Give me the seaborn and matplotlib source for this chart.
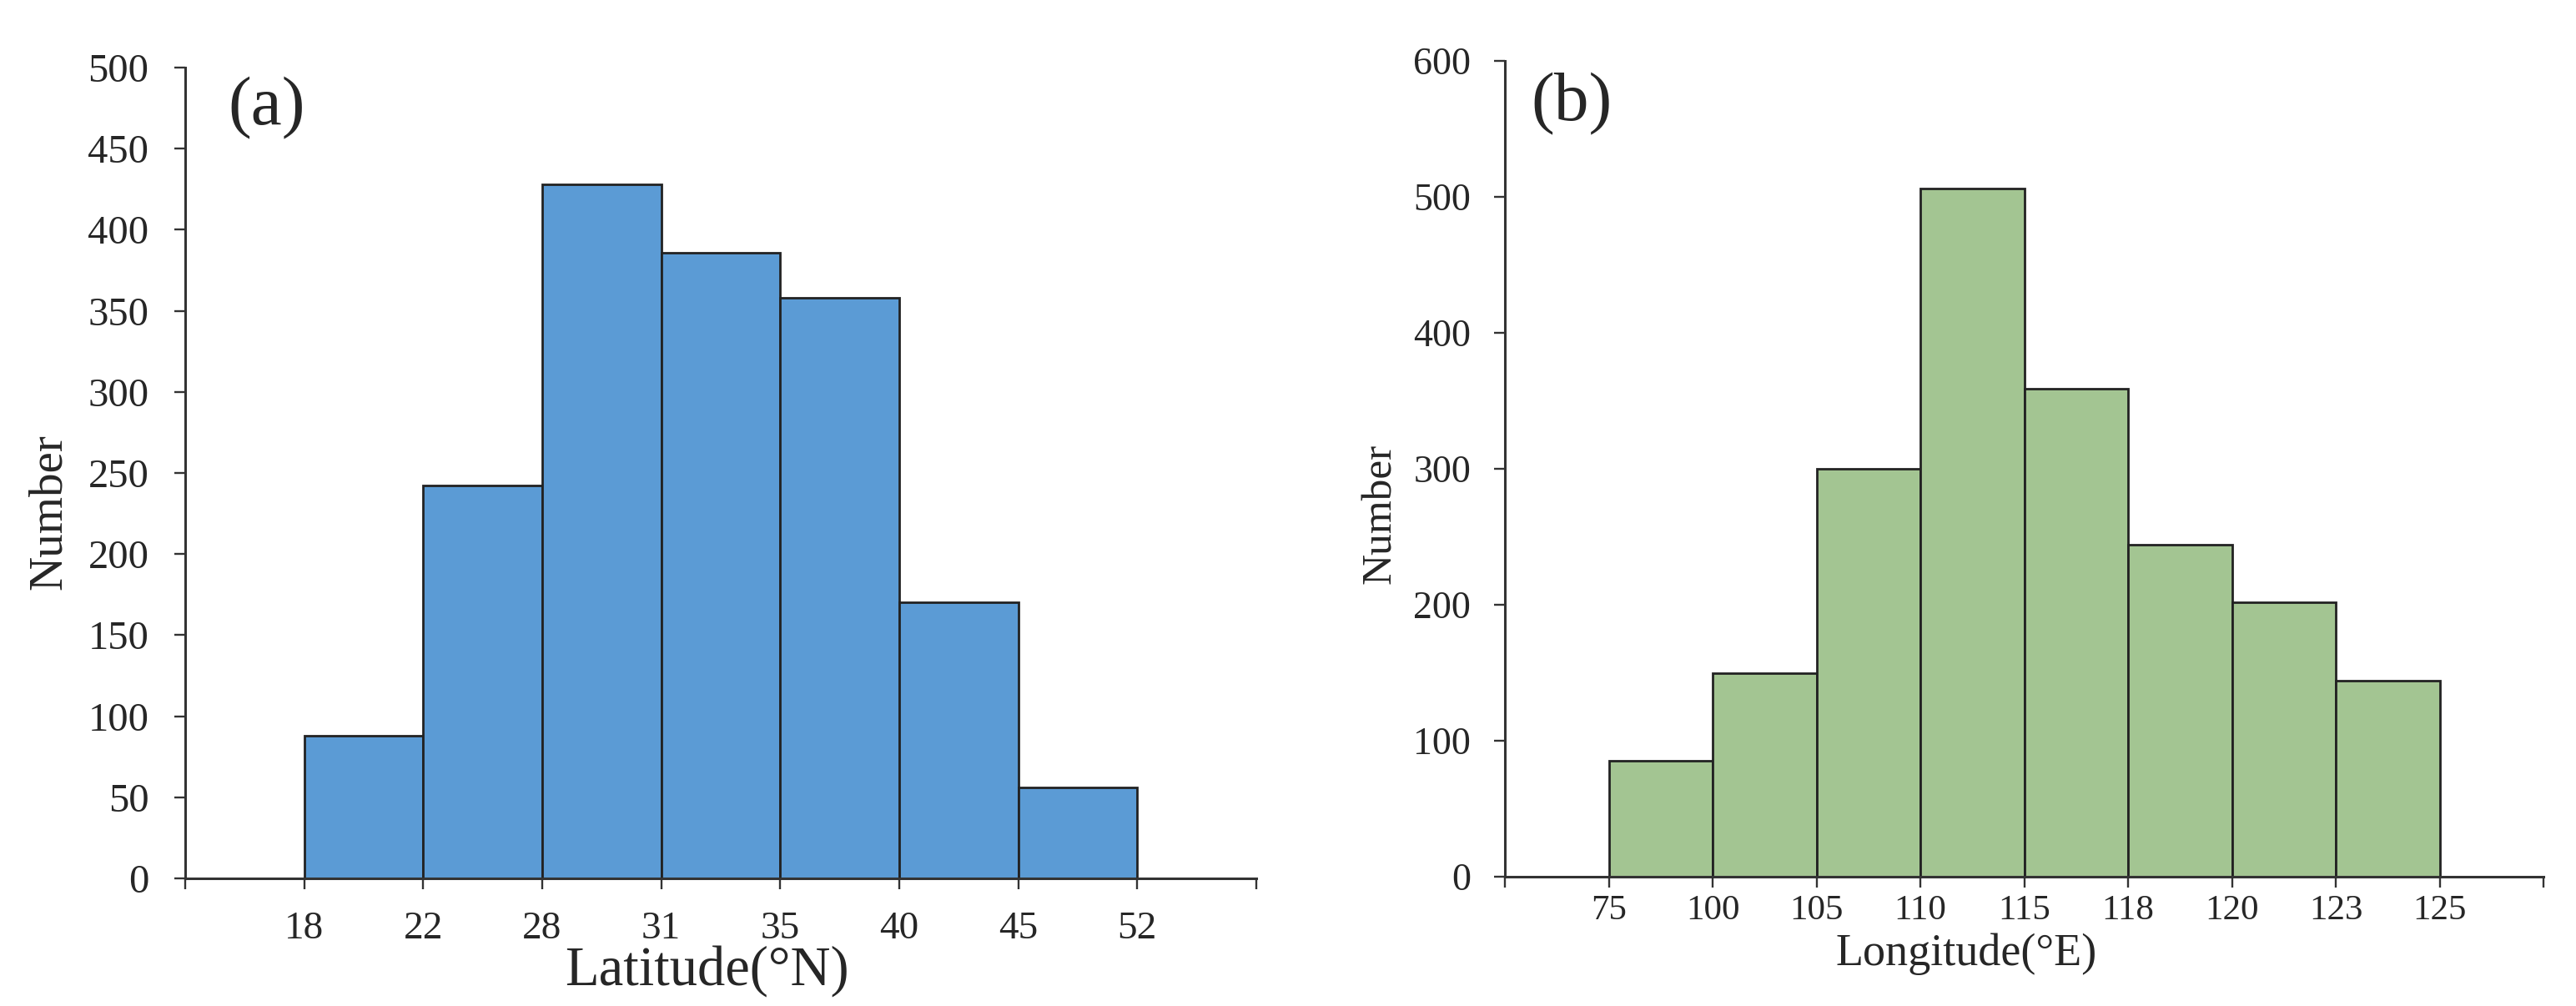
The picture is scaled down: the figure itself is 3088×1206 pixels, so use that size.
import numpy as np
import pandas as pd
import matplotlib
matplotlib.use("Agg")
import matplotlib.pyplot as plt
import seaborn as sns

# --- Data ---
lat_edges = ["18", "22", "28", "31", "35", "40", "45", "52"]
lat_counts = [88, 242, 428, 386, 358, 170, 56]

lon_edges = ["75", "100", "105", "110", "115", "118", "120", "123", "125"]
lon_counts = [85, 150, 300, 506, 359, 244, 202, 144]

lat_yticks = list(range(0, 501, 50))
lon_yticks = list(range(0, 601, 100))

sns.set_style("ticks")
plt.rcParams["font.family"] = ["Liberation Serif", "DejaVu Serif"]
plt.rcParams["axes.linewidth"] = 2.2
plt.rcParams["axes.edgecolor"] = "#333333"


def bins_frame(edges, counts):
    labels = [f"{a}-{b}" for a, b in zip(edges[:-1], edges[1:])]
    return pd.DataFrame({"bin": labels, "count": counts})


def draw_panel(ax, edges, counts, color, yticks, fs):
    df = bins_frame(edges, counts)
    sns.barplot(data=df, x="bin", y="count", color=color, saturation=1,
                width=1, edgecolor="#222222", linewidth=2.0, ax=ax)
    n = len(counts)
    # bin edges sit between categories, plus unlabeled ticks at the axis ends
    tick_pos = [-1.5] + list(np.arange(n + 1) - 0.5) + [n + 0.5]
    ax.set_xticks(tick_pos)
    ax.set_xticklabels([""] + edges + [""], fontsize=fs["xt"])
    ax.set_xlim(-1.5, n + 0.5)
    ax.set_yticks(yticks)
    ax.set_yticklabels([str(v) for v in yticks], fontsize=fs["yt"])
    ax.set_ylim(yticks[0], yticks[-1])
    ax.tick_params(axis="both", direction="out", length=9.4, width=1.7,
                   color="#333333")
    ax.tick_params(axis="x", pad=fs["xpad"])
    ax.tick_params(axis="y", pad=fs["ypad"])
    sns.despine(ax=ax)


fig = plt.figure(figsize=(30.88, 12.06), dpi=100)
ax_a = fig.add_axes([0.0719, 0.1269, 0.4158, 0.806])
ax_b = fig.add_axes([0.5842, 0.1285, 0.4032, 0.811])

draw_panel(ax_a, lat_edges, lat_counts, "#5B9BD5", lat_yticks,
           {"xt": 34, "yt": 35, "xpad": 19, "ypad": 22})
draw_panel(ax_b, lon_edges, lon_counts, "#A3C592", lon_yticks,
           {"xt": 31, "yt": 33, "xpad": 6, "ypad": 20})

# --- Labels ---
ax_a.set_xlabel("Latitude(°N)", fontsize=48)
ax_a.xaxis.set_label_coords(0.487, -0.082)
ax_a.set_ylabel("Number", fontsize=41)
ax_a.yaxis.label.set_va("center")
ax_a.yaxis.set_label_coords(-0.127, 0.452)

ax_b.set_xlabel("Longitude(°E)", fontsize=39)
ax_b.xaxis.set_label_coords(0.444, -0.0685)
ax_b.set_ylabel("Number", fontsize=37)
ax_b.yaxis.label.set_va("center")
ax_b.yaxis.set_label_coords(-0.120, 0.445)

ax_a.text(0.04, 0.95, "(a)", transform=ax_a.transAxes, fontsize=60,
          ha="left", va="center")
ax_b.text(0.025, 0.947, "(b)", transform=ax_b.transAxes, fontsize=60,
          ha="left", va="center")

fig.savefig("out.png", dpi=100, facecolor="white")
plt.close(fig)
